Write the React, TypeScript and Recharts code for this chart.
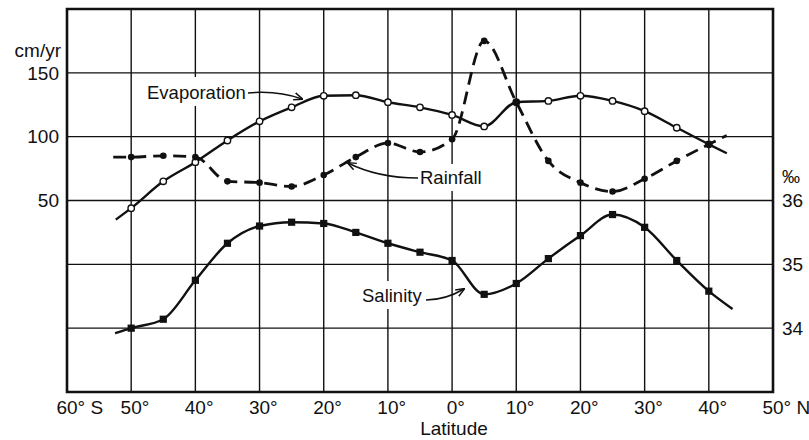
import React from "react";
import {
  ComposedChart,
  Line,
  XAxis,
  YAxis,
  CartesianGrid,
  ReferenceArea,
} from "recharts";

// ---- data ----
const latitudes = [-50, -45, -40, -35, -30, -25, -20, -15, -10, -5, 0, 5, 10, 15, 20, 25, 30, 35, 40];
const evaporation = [44, 65, 80, 97, 112, 123, 132, 132.5, 127, 123, 117, 108, 127, 128, 132, 128, 120, 107, 94];
const rainfall = [84, 85, 84, 65, 64, 61, 70, 84, 95, 88, 98, 175, 127, 81, 64, 57, 67, 81, 94];
const salinity = [34.0, 34.14, 34.75, 35.33, 35.6, 35.66, 35.64, 35.5, 35.33, 35.19, 35.06, 34.53, 34.7, 35.09, 35.45, 35.78, 35.58, 35.06, 34.58];

// unmarked ends of each drawn curve
const evaporationEndLats = [-52.4, 42.8];
const evaporationEndValues = [35, 87];
const rainfallEndLats = [-52.8, 42.8];
const rainfallEndValues = [84, 101];
const salinityEndLats = [-52.5, 43.7];
const salinityEndValues = [33.92, 34.3];

const latTicks = [-60, -50, -40, -30, -20, -10, 0, 10, 20, 30, 40, 50];
const leftTicks = [-100, -50, 0, 50, 100, 150, 200];
const leftLabels = [50, 100, 150];
const rightTicks = [34, 35, 36];

const FONT = '"Liberation Sans", Arial, sans-serif';
const FS = 19;
const INK = "#111";

type Pt = { lat: number; v: number; mark: boolean };

function buildSeries(values: number[], endLats: number[], endValues: number[]): Pt[] {
  const pts: Pt[] = latitudes.map((lat, i) => ({ lat, v: values[i], mark: true }));
  return [
    { lat: endLats[0], v: endValues[0], mark: false },
    ...pts,
    { lat: endLats[1], v: endValues[1], mark: false },
  ];
}

const evapData = buildSeries(evaporation, evaporationEndLats, evaporationEndValues);
const rainData = buildSeries(rainfall, rainfallEndLats, rainfallEndValues);
const salData = buildSeries(salinity, salinityEndLats, salinityEndValues);

const OpenDot = (p: any) =>
  p.payload && p.payload.mark ? (
    <circle key={p.key} cx={p.cx} cy={p.cy} r={3.2} fill="#fff" stroke={INK} strokeWidth={1.4} />
  ) : (
    <g key={p.key} />
  );

const FilledDot = (p: any) =>
  p.payload && p.payload.mark ? (
    <circle key={p.key} cx={p.cx} cy={p.cy} r={3.3} fill={INK} stroke="none" />
  ) : (
    <g key={p.key} />
  );

const SquareDot = (p: any) =>
  p.payload && p.payload.mark ? (
    <rect key={p.key} x={p.cx - 3.6} y={p.cy - 3.6} width={7.2} height={7.2} fill={INK} stroke="none" />
  ) : (
    <g key={p.key} />
  );

const XTick = (props: any) => {
  const { x, y, payload } = props;
  const v = payload.value as number;
  const num = String(Math.abs(v));
  const suffix = v === -60 ? "° S" : v === 50 ? "° N" : "°";
  const half = (num.length * 0.556 * FS) / 2;
  return (
    <g>
      <text x={x} y={y} dy="0.71em" textAnchor="middle" fontFamily={FONT} fontSize={FS} fill={INK}>
        {num}
      </text>
      <text x={x + half} y={y} dy="0.71em" textAnchor="start" fontFamily={FONT} fontSize={FS} fill={INK}>
        {suffix}
      </text>
    </g>
  );
};

export default function App() {
  return (
    <div style={{ position: "absolute", left: 0, top: 0, width: 809, height: 440, background: "#fff" }}>
      <ComposedChart
        width={809}
        height={440}
        margin={{ top: 9, right: 0, bottom: 0, left: 0 }}
        style={{ fontFamily: FONT }}
      >
        <CartesianGrid stroke={INK} strokeWidth={1.4} strokeDasharray="" />
        <XAxis
          dataKey="lat"
          type="number"
          domain={[-60, 50]}
          ticks={latTicks}
          allowDataOverflow
          height={48}
          axisLine={false}
          tickLine={false}
          tickSize={6}
          tickMargin={3}
          tick={<XTick />}
          interval={0}
        />
        <YAxis
          type="number"
          domain={[-100, 200]}
          ticks={leftTicks}
          allowDataOverflow
          width={67}
          axisLine={false}
          tickLine={false}
          tickSize={6}
          tickMargin={2}
          interval={0}
          tickFormatter={(v: number) => (leftLabels.includes(v) ? String(v) : "")}
          tick={{ fontFamily: FONT, fontSize: FS, fill: INK }}
        />
        <YAxis
          yAxisId="right"
          orientation="right"
          type="number"
          domain={[33, 39]}
          ticks={rightTicks}
          allowDataOverflow
          width={36}
          axisLine={false}
          tickLine={false}
          tickSize={6}
          tickMargin={3}
          interval={0}
          tick={{ fontFamily: FONT, fontSize: FS, fill: INK, textAnchor: "start" }}
        />
        <ReferenceArea x1={-60} x2={50} y1={-100} y2={200} fill="none" stroke={INK} strokeWidth={2.6} />
        <Line
          data={evapData}
          dataKey="v"
          type="monotone"
          stroke={INK}
          strokeWidth={2.4}
          dot={OpenDot}
          activeDot={false}
          isAnimationActive={false}
        />
        <Line
          data={rainData}
          dataKey="v"
          type="monotone"
          stroke={INK}
          strokeWidth={2.8}
          strokeDasharray="13 7"
          dot={FilledDot}
          activeDot={false}
          isAnimationActive={false}
        />
        <Line
          data={salData}
          dataKey="v"
          yAxisId="right"
          type="monotone"
          stroke={INK}
          strokeWidth={2.4}
          dot={SquareDot}
          activeDot={false}
          isAnimationActive={false}
        />
      </ComposedChart>
      <svg
        width={809}
        height={440}
        style={{ position: "absolute", left: 0, top: 0, pointerEvents: "none" }}
        fontFamily={FONT}
      >
        <defs>
          <marker id="arr" viewBox="0 0 10 10" refX="9" refY="5" markerWidth="9" markerHeight="9" orient="auto" markerUnits="userSpaceOnUse">
            <path d="M0,1 L10,5 L0,9" fill="none" stroke={INK} strokeWidth={1.6} />
          </marker>
        </defs>
        <text x={61} y={57} textAnchor="end" fontSize={19} fill={INK}>cm/yr</text>
        <text x={782} y={183} textAnchor="start" fontSize={18} fill={INK}>‰</text>
        <text x={454} y={435} textAnchor="middle" fontSize={19} fill={INK}>Latitude</text>

        <rect x={144} y={77} width={104} height={29} fill="#fff" />
        <text x={147} y={99} fontSize={18.5} fill={INK}>Evaporation</text>
        <path d="M248,93 C268,91 285,93 302,99" fill="none" stroke={INK} strokeWidth={1.5} markerEnd="url(#arr)" />

        <rect x={417} y={164} width={70} height={27} fill="#fff" />
        <text x={420} y={184} fontSize={18.5} fill={INK}>Rainfall</text>
        <path d="M418,178 C395,178 370,174 348,163" fill="none" stroke={INK} strokeWidth={1.5} markerEnd="url(#arr)" />

        <rect x={360} y={281} width={67} height={28} fill="#fff" />
        <text x={362} y={302} fontSize={18.5} fill={INK}>Salinity</text>
        <path d="M426,300 C440,300 452,296 464,289" fill="none" stroke={INK} strokeWidth={1.5} markerEnd="url(#arr)" />
      </svg>
    </div>
  );
}
